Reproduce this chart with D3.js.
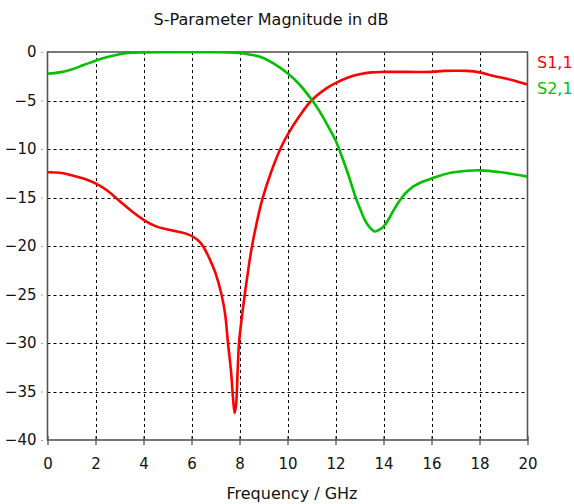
<!DOCTYPE html>
<html>
<head>
<meta charset="utf-8">
<script src="https://cdn.jsdelivr.net/npm/d3@7"></script>
<style>
  html, body { margin: 0; padding: 0; background: #fff; }
  svg { display: block; }
</style>
</head>
<body>
<svg id="chart" width="574" height="504"></svg>
<script>
// ---- data ----
const title = "S-Parameter Magnitude in dB";
const xLabel = "Frequency / GHz";
const xTicks = [0, 2, 4, 6, 8, 10, 12, 14, 16, 18, 20];
const yTicks = [0, -5, -10, -15, -20, -25, -30, -35, -40];
const seriesNames = ["S1,1", "S2,1"];

const s11Freq = [0, 0.5, 1, 1.5, 2, 2.5, 3, 3.5, 4, 4.5, 5, 5.5, 5.8, 6.1, 6.35, 6.5, 6.75, 7.0, 7.25, 7.4, 7.52, 7.65, 7.74, 7.8, 7.86, 7.92, 7.98, 8.1, 8.22, 8.35, 8.5, 8.7, 8.95, 9.3, 9.7, 10, 10.5, 11.0, 11.62, 12, 12.5, 13, 13.5, 14, 15, 16, 16.5, 17, 17.5, 18, 18.6, 19.3, 20];
const s11Val  = [-12.4, -12.45, -12.7, -13.05, -13.55, -14.3, -15.35, -16.4, -17.3, -17.95, -18.3, -18.55, -18.75, -19.1, -19.6, -20.1, -21.3, -22.8, -25, -27, -30, -33, -36, -37.2, -36.3, -33, -30, -27.3, -25, -22.7, -20.3, -17.8, -15.2, -12.5, -10, -8.55, -6.6, -5.0, -3.75, -3.2, -2.65, -2.3, -2.1, -2.05, -2.05, -2.05, -1.95, -1.93, -1.95, -2.1, -2.47, -2.85, -3.35];

const s21Freq = [0, 0.5, 1, 1.5, 2, 2.5, 3, 3.5, 4, 5, 6, 7, 7.5, 8, 8.4, 8.86, 9.4, 10, 10.5, 11, 11.33, 11.7, 12, 12.1, 12.5, 12.84, 13.0, 13.2, 13.4, 13.63, 13.8, 14, 14.2, 14.4, 14.6, 14.8, 15, 15.25, 15.6, 16, 16.34, 16.8, 17.5, 18, 18.9, 20];
const s21Val  = [-2.25, -2.1, -1.8, -1.35, -0.9, -0.52, -0.24, -0.08, -0.04, -0.03, -0.03, -0.03, -0.04, -0.1, -0.25, -0.5, -1.15, -2.2, -3.35, -4.9, -6.1, -7.7, -9.1, -9.7, -12.4, -15, -16.0, -17.2, -18.0, -18.5, -18.35, -18.0, -17.3, -16.4, -15.6, -14.9, -14.35, -13.85, -13.4, -13.05, -12.75, -12.45, -12.25, -12.2, -12.4, -12.85];

const colors = ["#ff0000", "#00c000"];

// ---- layout ----
const svg = d3.select("#chart");
const L = 47.5, R = 527.5, T = 52, B = 440;
const x = d3.scaleLinear().domain([0, 20]).range([L, R]);
const y = d3.scaleLinear().domain([-40, 0]).range([B, T]);
const font = "Tahoma, 'DejaVu Sans', sans-serif";

// grid
const grid = svg.append("g");
grid.selectAll("line.v").data(xTicks.slice(1, -1)).join("line")
  .attr("x1", d => Math.round(x(d)) + 0.5).attr("x2", d => Math.round(x(d)) + 0.5)
  .attr("y1", T).attr("y2", B)
  .attr("stroke", "#000").attr("stroke-width", 1).attr("stroke-dasharray", "3,3");
grid.selectAll("line.h").data(yTicks.slice(1, -1)).join("line")
  .attr("y1", d => Math.round(y(d)) + 0.5).attr("y2", d => Math.round(y(d)) + 0.5)
  .attr("x1", L).attr("x2", R)
  .attr("stroke", "#000").attr("stroke-width", 1).attr("stroke-dasharray", "3,3");

// axes
const xAxis = d3.axisBottom(x).tickValues(xTicks).tickSize(5).tickPadding(13).tickFormat(d3.format("d"));
const yAxis = d3.axisLeft(y).tickValues(yTicks).tickSize(5).tickPadding(6).tickFormat(d3.format("d"));
const gx = svg.append("g").attr("transform", `translate(0,${B})`).call(xAxis);
const gy = svg.append("g").attr("transform", `translate(${L},0)`).call(yAxis);
[gx, gy].forEach(g => {
  g.select(".domain").remove();
  g.selectAll(".tick line").attr("stroke", "#444").attr("stroke-width", 1.2);
  g.selectAll(".tick text").attr("fill", "#111").style("font-family", font).style("font-size", "15px");
});
gx.selectAll(".tick line").attr("y1", -4);
gy.selectAll(".tick line").attr("x1", -6);

// frame
svg.append("rect").attr("x", L).attr("y", T).attr("width", R - L).attr("height", B - T)
  .attr("fill", "none").attr("stroke", "#555").attr("stroke-width", 1.6);

// curves
const line = d3.line().x(d => x(d[0])).y(d => y(d[1])).curve(d3.curveCatmullRom.alpha(0.5));
const s11 = s11Freq.map((f, i) => [f, s11Val[i]]);
const s21 = s21Freq.map((f, i) => [f, s21Val[i]]);
const clip = svg.append("clipPath").attr("id", "clip").append("rect")
  .attr("x", L).attr("y", T - 3).attr("width", R - L).attr("height", B - T + 6);
const curves = svg.append("g").attr("clip-path", "url(#clip)");
[s11, s21].forEach((s, i) => {
  curves.append("path").datum(s).attr("d", line)
    .attr("fill", "none").attr("stroke", colors[i]).attr("stroke-width", 2.6)
    .attr("stroke-linejoin", "round");
});

// title & labels
svg.append("text").attr("x", 271).attr("y", 25).attr("text-anchor", "middle")
  .style("font-family", font).style("font-size", "16px").attr("fill", "#111").text(title);
svg.append("text").attr("x", 292).attr("y", 499).attr("text-anchor", "middle")
  .style("font-family", font).style("font-size", "16px").attr("fill", "#111").text(xLabel);

// legend
seriesNames.forEach((n, i) => {
  svg.append("text").attr("x", 537).attr("y", 68 + i * 26)
    .style("font-family", font).style("font-size", "16px").attr("fill", colors[i]).text(n);
});
</script>
</body>
</html>
